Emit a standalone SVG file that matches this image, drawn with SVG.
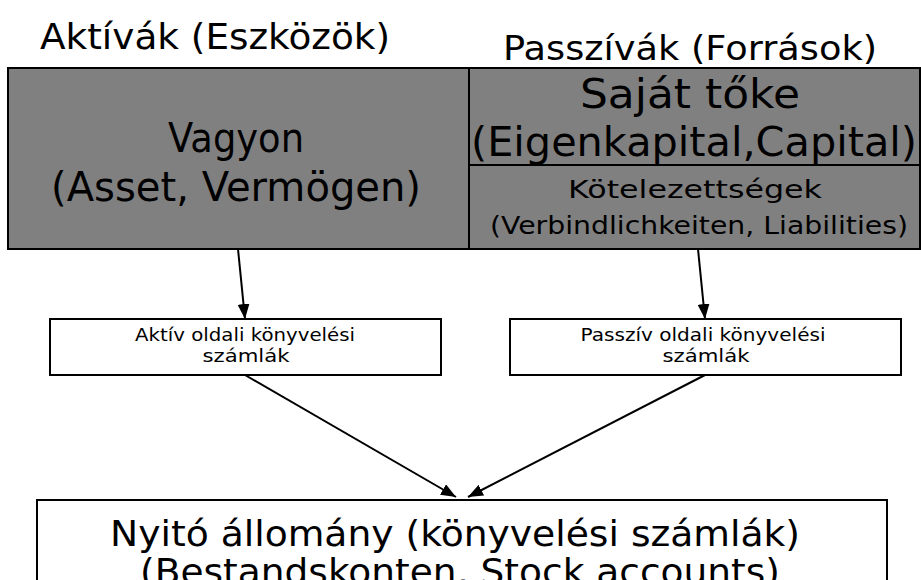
<svg xmlns="http://www.w3.org/2000/svg" width="921" height="580" viewBox="0 0 921 580">
<style>
text{font-family:"Comic Sans MS","DejaVu Sans",sans-serif;fill:#000}
.c{text-anchor:middle}
.g{fill:#808080;stroke:#000;stroke-width:2}
.w{fill:#fff;stroke:#000;stroke-width:2}
.ln{stroke:#000;stroke-width:2;fill:none}
.a{stroke:#000;stroke-width:2;fill:none;marker-end:url(#ah)}
</style>
<defs>
<marker id="ah" viewBox="0 0 15 12" refX="15" refY="6" markerWidth="15" markerHeight="12" markerUnits="userSpaceOnUse" orient="auto">
<path d="M0,0 L15,6 L0,12 z" fill="#000"/>
</marker>
</defs>
<rect width="921" height="580" fill="#fff"/>
<g id="title-aktivak"><text x="40" y="49" font-size="35" textLength="350" lengthAdjust="spacingAndGlyphs">Aktívák (Eszközök)</text></g>
<g id="title-passzivak"><text x="503" y="60" font-size="33" textLength="374" lengthAdjust="spacingAndGlyphs">Passzívák (Források)</text></g>
<g id="vagyon">
<rect class="g" x="8" y="68" width="461" height="181"/>
<text class="c" x="236" y="152" font-size="40" textLength="136" lengthAdjust="spacingAndGlyphs">Vagyon</text>
<text class="c" x="236" y="201" font-size="40" textLength="370" lengthAdjust="spacingAndGlyphs">(Asset, Vermögen)</text>
</g>
<g id="sajat-toke">
<rect class="g" x="469" y="68" width="451" height="97"/>
<text class="c" x="690" y="108" font-size="40" textLength="220" lengthAdjust="spacingAndGlyphs">Saját tőke</text>
<text class="c" x="694" y="156" font-size="40" textLength="446" lengthAdjust="spacingAndGlyphs">(Eigenkapital,Capital)</text>
<line class="ln" x1="469" y1="165" x2="920" y2="165"/>
</g>
<g id="kotelezettsegek">
<rect class="g" x="469" y="165" width="451" height="84"/>
<text class="c" x="695" y="198" font-size="25" textLength="254" lengthAdjust="spacingAndGlyphs">Kötelezettségek</text>
<text class="c" x="699" y="234" font-size="25" textLength="418" lengthAdjust="spacingAndGlyphs">(Verbindlichkeiten, Liabilities)</text>
</g>
<g id="aktiv-szamlak">
<rect class="w" x="50" y="319" width="391" height="56"/>
<text class="c" x="245" y="341" font-size="17" textLength="220" lengthAdjust="spacingAndGlyphs">Aktív oldali könyvelési</text>
<text class="c" x="246" y="362" font-size="17" textLength="87" lengthAdjust="spacingAndGlyphs">számlák</text>
</g>
<g id="passziv-szamlak">
<rect class="w" x="510" y="319" width="391" height="56"/>
<text class="c" x="703" y="341" font-size="17" textLength="245" lengthAdjust="spacingAndGlyphs">Passzív oldali könyvelési</text>
<text class="c" x="706" y="362" font-size="17" textLength="87" lengthAdjust="spacingAndGlyphs">számlák</text>
</g>
<g id="nyito-allomany">
<rect class="w" x="37" y="500" width="850" height="90"/>
<text class="c" x="455" y="546" font-size="36" textLength="690" lengthAdjust="spacingAndGlyphs">Nyitó állomány (könyvelési számlák)</text>
<text class="c" x="460" y="584" font-size="36" textLength="640" lengthAdjust="spacingAndGlyphs">(Bestandskonten, Stock accounts)</text>
</g>
<g id="connectors">
<line class="a" x1="238" y1="249" x2="245" y2="319"/>
<line class="a" x1="698" y1="249" x2="705" y2="319"/>
<line class="a" x1="245" y1="375" x2="456" y2="497"/>
<line class="a" x1="705" y1="375" x2="468" y2="497"/>
</g>
</svg>
